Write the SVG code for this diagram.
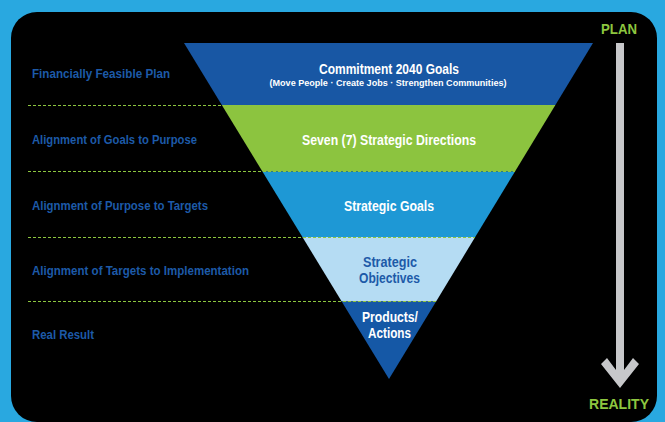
<svg xmlns="http://www.w3.org/2000/svg" width="665" height="422" viewBox="0 0 665 422">
<style>
.lbl{font-family:"Liberation Sans Narrow","Liberation Sans",Arial,sans-serif;font-weight:bold;font-size:13.5px;fill:#1d5aa8}
.ctr{font-family:"Liberation Sans Narrow","Liberation Sans",Arial,sans-serif;font-weight:bold;fill:#ffffff;text-anchor:middle}
.dash{stroke:#8dc63f;stroke-width:1;stroke-dasharray:3 2;fill:none}
.side{font-family:"Liberation Sans Narrow","Liberation Sans",Arial,sans-serif;font-weight:bold;font-size:15px;fill:#8dc63f}
</style>
<rect x="0" y="0" width="665" height="422" fill="#29a8e0"/>
<rect x="11" y="12" width="646" height="410" rx="26" ry="26" fill="#000000"/>
<g id="band1">
<polygon points="184,43 593,43 555.4,105 221.8,105" fill="#1857a4"/>
<text class="ctr" x="389" y="73.5" font-size="14" textLength="140" lengthAdjust="spacingAndGlyphs">Commitment 2040 Goals</text>
<text class="ctr" x="388" y="86" font-size="9" textLength="237" lengthAdjust="spacingAndGlyphs">(Move People · Create Jobs · Strengthen Communities)</text>
</g>
<g id="band2">
<polygon points="221.8,105 555.4,105 515,171.5 262.4,171.5" fill="#8cc43f"/>
<text class="ctr" x="389" y="144.5" font-size="14" textLength="174" lengthAdjust="spacingAndGlyphs">Seven (7) Strategic Directions</text>
</g>
<g id="band3">
<polygon points="262.4,171.5 515,171.5 475.2,237 302.4,237" fill="#1e98d5"/>
<text class="ctr" x="389" y="210.5" font-size="14" textLength="90" lengthAdjust="spacingAndGlyphs">Strategic Goals</text>
</g>
<g id="band4">
<polygon points="302.4,237 475.2,237 436.1,301.5 341.7,301.5" fill="#b5dcf3"/>
<text class="ctr" x="390" y="266.5" font-size="14" style="fill:#1d5aa8" textLength="54" lengthAdjust="spacingAndGlyphs">Strategic</text>
<text class="ctr" x="389.5" y="283" font-size="14" style="fill:#1d5aa8" textLength="61" lengthAdjust="spacingAndGlyphs">Objectives</text>
</g>
<g id="band5">
<polygon points="341.7,301.5 436.1,301.5 389,379" fill="#1558a6"/>
<text class="ctr" x="390" y="322" font-size="14" textLength="56" lengthAdjust="spacingAndGlyphs">Products/</text>
<text class="ctr" x="389.5" y="338" font-size="14" textLength="43" lengthAdjust="spacingAndGlyphs">Actions</text>
</g>
<g id="connectors">
<line class="dash" x1="28" y1="105.5" x2="555" y2="105.5"/>
<line class="dash" x1="28" y1="171.5" x2="515" y2="171.5"/>
<line class="dash" x1="28" y1="237.5" x2="475" y2="237.5"/>
<line class="dash" x1="28" y1="301.5" x2="436" y2="301.5"/>
</g>
<g id="labels">
<text class="lbl" x="32" y="78" textLength="138" lengthAdjust="spacingAndGlyphs">Financially Feasible Plan</text>
<text class="lbl" x="32" y="143.5" textLength="165" lengthAdjust="spacingAndGlyphs">Alignment of Goals to Purpose</text>
<text class="lbl" x="32" y="209.5" textLength="176" lengthAdjust="spacingAndGlyphs">Alignment of Purpose to Targets</text>
<text class="lbl" x="32" y="274.5" textLength="217" lengthAdjust="spacingAndGlyphs">Alignment of Targets to Implementation</text>
<text class="lbl" x="32" y="339" textLength="62" lengthAdjust="spacingAndGlyphs">Real Result</text>
</g>
<g id="plan-arrow">
<text class="side" x="619" y="34" text-anchor="middle" textLength="36" lengthAdjust="spacingAndGlyphs">PLAN</text>
<polygon points="616,43 624,43 624,370 633,358 639,364 620,388 601,364 607,358 616,370" fill="#c7c8ca"/>
<text class="side" x="619" y="409" text-anchor="middle" textLength="60" lengthAdjust="spacingAndGlyphs">REALITY</text>
</g>
</svg>
